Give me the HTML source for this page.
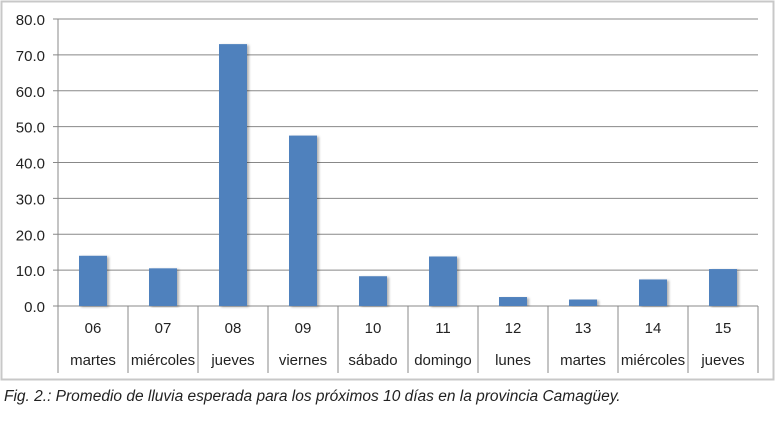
<!DOCTYPE html>
<html><head><meta charset="utf-8"><style>
body{margin:0;background:#fff;width:776px;height:417px;overflow:hidden;font-family:"Liberation Sans",sans-serif}
</style></head><body>
<svg width="776" height="417">
<defs><filter id="sh" x="-20%" y="-5%" width="150%" height="110%"><feDropShadow dx="2" dy="1" stdDeviation="1.2" flood-color="#000" flood-opacity="0.3"/></filter></defs>
<rect x="1.5" y="1.5" width="772" height="378" fill="#fff" stroke="#c8c8c8" stroke-width="2"/>
<g id="grid"></g><g id="bars"></g><g id="xax"></g>
<text x="4" y="401" font-size="15.5" font-style="italic" fill="#222">Fig. 2.: Promedio de lluvia esperada para los próximos 10 días en la provincia Camagüey.</text>
</svg>
<script>
const days=["06","07","08","09","10","11","12","13","14","15"];
const names=["martes","miércoles","jueves","viernes","sábado","domingo","lunes","martes","miércoles","jueves"];
const rain=[14.0,10.5,73.0,47.5,8.3,13.8,2.5,1.8,7.4,10.3];
const ticks=[0,10,20,30,40,50,60,70,80];
const X0=58,CW=70,Y0=306,YT=19,YMAX=80;
const y=v=>Y0-(Y0-YT)*v/YMAX;
const x=i=>X0+CW*i;
const NS="http://www.w3.org/2000/svg";
function mk(t,a,p,txt){const e=document.createElementNS(NS,t);for(const k in a)e.setAttribute(k,a[k]);if(txt!=null)e.textContent=txt;p.appendChild(e);return e;}
const g=document.getElementById("grid"),b=document.getElementById("bars"),xa=document.getElementById("xax");
const xEnd=x(days.length);
ticks.forEach(t=>{
 const l=mk("line",{x1:X0-5,x2:xEnd,y1:y(t),y2:y(t),stroke:"#888","stroke-width":1},g);
 
 
 const tx=mk("text",{x:X0-13,y:y(t)+6,"text-anchor":"end","font-size":"15",fill:"#222"},g,t.toFixed(1));
 
 
});
const ax=mk("line",{x1:X0,x2:X0,y1:YT,y2:Y0,stroke:"#888"},g);


rain.forEach((v,i)=>{
 const r=mk("rect",{x:x(i)+21,y:y(v),width:28,height:Y0-y(v),fill:"#4f81bd",filter:"url(#sh)"},b);
 
 
});
for(let i=0;i<=days.length;i++){
 const l=mk("line",{x1:x(i),x2:x(i),y1:Y0,y2:373,stroke:"#888"},xa);
 
 
}
days.forEach((d,i)=>{
 const t1=mk("text",{x:x(i)+CW/2,y:333,"text-anchor":"middle","font-size":"15",fill:"#222"},xa,d);
 
 
 const t2=mk("text",{x:x(i)+CW/2,y:365,"text-anchor":"middle","font-size":"15",fill:"#222"},xa,names[i]);
 
 
});
</script>
</body></html>
